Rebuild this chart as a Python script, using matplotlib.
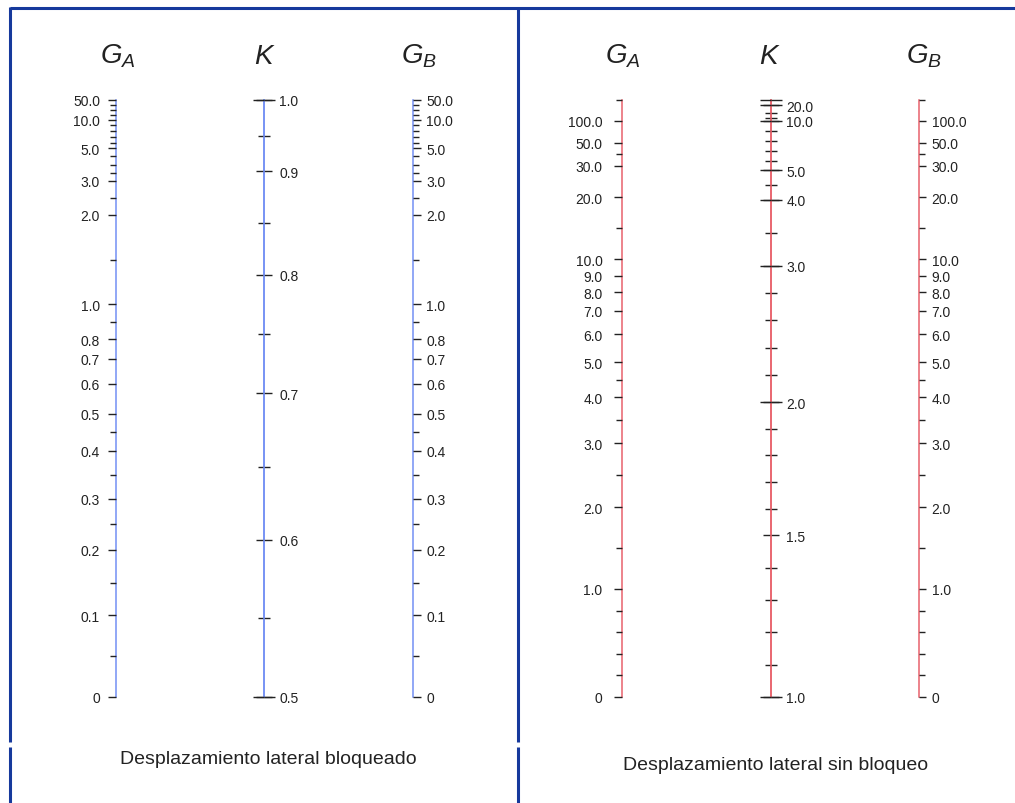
import numpy as np
import matplotlib
matplotlib.use("Agg")
import matplotlib.pyplot as plt
from matplotlib import font_manager

plt.rcParams['font.family'] = ['Liberation Sans', 'DejaVu Sans']

# narrow italic for the scale titles when it is available
try:
    font_manager.findfont(font_manager.FontProperties(family='Liberation Sans Narrow'),
                          fallback_to_default=False)
    TITLE_FONT = 'Liberation Sans Narrow'
except ValueError:
    TITLE_FONT = 'Liberation Sans'
plt.rcParams['mathtext.fontset'] = 'custom'
plt.rcParams['mathtext.it'] = TITLE_FONT + ':italic'
plt.rcParams['mathtext.rm'] = TITLE_FONT

W, H = 1015, 804
TOP, BOT = 101, 698          # scale ends, pixels from the top
INF = 1e9                    # stands in for the infinity end of a scale

# printed scales: labelled value -> relative height along the scale (0 bottom, 1 top)
braced_g_knots = [0, 0.1, 0.2, 0.3, 0.4, 0.5, 0.6, 0.7, 0.8, 1.0, 2.0, 3.0, 5.0, 10.0, 50.0]
braced_g_height = [0, 0.137, 0.246, 0.332, 0.412, 0.474, 0.524, 0.566, 0.599, 0.657,
                   0.807, 0.864, 0.918, 0.966, 0.999]
braced_k_knots = [0.5, 0.6, 0.7, 0.8, 0.9, 1.0]
braced_k_height = [0, 0.263, 0.509, 0.707, 0.881, 1.0]

sway_g_knots = [0, 1, 2, 3, 4, 5, 6, 7, 8, 9, 10, 20, 30, 50, 100, INF]
sway_g_height = [0, 0.181, 0.318, 0.425, 0.502, 0.561, 0.608, 0.647, 0.678, 0.706,
                 0.733, 0.837, 0.890, 0.928, 0.965, 1.0]
sway_k_knots = [1.0, 1.5, 2.0, 3.0, 4.0, 5.0, 10.0, 20.0, INF]
sway_k_height = [0, 0.271, 0.494, 0.722, 0.833, 0.882, 0.965, 0.991, 1.0]

# tick values
braced_g_major = [0, 0.1, 0.2, 0.3, 0.4, 0.5, 0.6, 0.7, 0.8, 1.0, 2.0, 3.0, 5.0, 10.0, 50.0]
braced_g_minor = [0.05, 0.15, 0.25, 0.35, 0.45, 0.9, 1.5, 2.5, 3.5, 4.0, 4.5,
                  6.0, 7.0, 8.0, 9.0, 20.0, 30.0, 40.0]
braced_k_major = [0.5, 0.6, 0.7, 0.8, 0.9, 1.0]
braced_k_minor = [0.55, 0.65, 0.75, 0.85, 0.95]
braced_k_long = [0.5, 1.0]

sway_g_major = [0, 1.0, 2.0, 3.0, 4.0, 5.0, 6.0, 7.0, 8.0, 9.0, 10.0, 20.0, 30.0, 50.0, 100.0]
sway_g_minor = [0.2, 0.4, 0.6, 0.8, 1.5, 2.5, 3.5, 4.5, 15.0, 40.0, INF]
sway_k_major = [1.0, 1.5, 2.0, 3.0, 4.0, 5.0, 10.0, 20.0]
sway_k_minor = [1.1, 1.2, 1.3, 1.4, 1.6, 1.7, 1.8, 1.9, 2.2, 2.4, 2.6, 2.8,
                3.5, 4.5, 6.0, 7.0, 8.0, 9.0, 12.0, 15.0]
sway_k_long = [1.0, 2.0, 3.0, 4.0, 5.0, 10.0, 20.0, INF]

BLUE = '#7390f4'
RED = '#e8626c'
FRAME = '#16399c'
INK = '#222222'


def table_scale(knots, heights):
    knots = np.asarray(knots, dtype=float)
    heights = np.asarray(heights, dtype=float)

    def fwd(v):
        return np.interp(v, knots, heights)

    def inv(h):
        return np.interp(h, heights, knots)
    return fwd, inv


fig = plt.figure(figsize=(W / 100, H / 100), dpi=100)

bg = fig.add_axes([0, 0, 1, 1])
bg.set_xlim(0, W)
bg.set_ylim(H, 0)
bg.axis('off')

# table frame
bg.plot([10, W], [8.5, 8.5], color=FRAME, lw=2.2, solid_capstyle='butt')
for xf in (10, 518.5):
    bg.plot([xf, xf], [7.5, 743], color=FRAME, lw=2.2, solid_capstyle='butt')
    bg.plot([xf, xf], [748, H], color=FRAME, lw=2.2, solid_capstyle='butt')


def fmt(v):
    return '0' if v == 0 else f'{v:.1f}'


def make_axis(x, funcs, lims, major, minor, color, side, labels=True,
              maj_len=6, min_len=4, pad=4):
    ax = fig.add_axes([x / W, (H - BOT) / H, 1e-5, (BOT - TOP) / H])
    ax.patch.set_visible(False)
    ax.set_yscale('function', functions=funcs)
    ax.set_ylim(*lims)
    ax.xaxis.set_visible(False)
    for s in ('top', 'bottom', 'right'):
        ax.spines[s].set_visible(False)
    ax.spines['left'].set_color(color)
    ax.spines['left'].set_linewidth(1.1)
    ax.spines['left'].set_zorder(0)
    ax.set_yticks(major, [fmt(v) for v in major] if labels else [''] * len(major))
    ax.set_yticks(minor, minor=True)
    left = side in ('left', 'both')
    right = side in ('right', 'both')
    lab_left = side == 'left'
    ax.tick_params(axis='y', which='both', direction='out', color=INK, width=1.0,
                   left=left, right=right, labelleft=lab_left and labels,
                   labelright=(not lab_left) and labels)
    ax.tick_params(axis='y', which='major', length=maj_len, pad=pad,
                   labelsize=10, labelcolor=INK)
    ax.tick_params(axis='y', which='minor', length=min_len)
    return ax


bg_scale = table_scale(braced_g_knots, braced_g_height)
bk_scale = table_scale(braced_k_knots, braced_k_height)
sg_scale = table_scale(sway_g_knots, sway_g_height)
sk_scale = table_scale(sway_k_knots, sway_k_height)

# braced frame (blue)
make_axis(116, bg_scale, (0, 50), braced_g_major, braced_g_minor, BLUE, 'left',
          maj_len=5.5, min_len=4, pad=6)
make_axis(264, bk_scale, (0.5, 1.0), braced_k_major, braced_k_minor, BLUE, 'both',
          maj_len=6, min_len=4.5, pad=5)
make_axis(264, bk_scale, (0.5, 1.0), braced_k_long, [], BLUE, 'both', labels=False, maj_len=8)
make_axis(413, bg_scale, (0, 50), braced_g_major, braced_g_minor, BLUE, 'right',
          maj_len=5.5, min_len=4, pad=4)

# sway frame (red)
make_axis(622, sg_scale, (0, INF), sway_g_major, sway_g_minor, RED, 'left',
          maj_len=6, min_len=4, pad=8)
make_axis(771, sk_scale, (1.0, INF), sway_k_major, sway_k_minor, RED, 'both',
          maj_len=5.5, min_len=4, pad=5.5)
make_axis(771, sk_scale, (1.0, INF), sway_k_long, [], RED, 'both', labels=False, maj_len=8)
make_axis(919, sg_scale, (0, INF), sway_g_major, sway_g_minor, RED, 'right',
          maj_len=5, min_len=4, pad=4)

# scale titles
for x0 in (118, 623):
    bg.text(x0, 64, r'$G_A$', fontsize=20, ha='center', va='baseline', color=INK)
    bg.text(x0 + 147, 64, r'$K$', fontsize=20, ha='center', va='baseline', color=INK)
    bg.text(x0 + 301, 64, r'$G_B$', fontsize=20, ha='center', va='baseline', color=INK)

bg.text(268, 760, 'Desplazamiento lateral bloqueado', fontsize=14, ha='center',
        va='center', color=INK)
bg.text(776, 766, 'Desplazamiento lateral sin bloqueo', fontsize=14, ha='center',
        va='center', color=INK)

fig.savefig('out.png', dpi=100)
